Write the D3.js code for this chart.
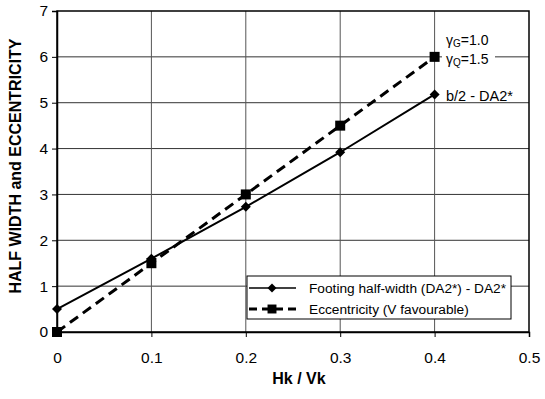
<!DOCTYPE html>
<html><head><meta charset="utf-8">
<script src="https://cdn.jsdelivr.net/npm/d3@7"></script>
<style>body{margin:0;background:#fff;} text{font-family:Arial,"Liberation Sans",sans-serif;}</style>
</head><body>
<svg id="c" width="545" height="399"></svg>
<script>
const xValues = [0, 0.1, 0.2, 0.3, 0.4];
const footing = [0.5, 1.6, 2.73, 3.92, 5.18];
const eccentricity = [0, 1.5, 3.0, 4.5, 6.0];
const xTicks = [0, 0.1, 0.2, 0.3, 0.4, 0.5];
const yTicks = [0, 1, 2, 3, 4, 5, 6, 7];
const seriesNames = ["Footing half-width (DA2*) - DA2*", "Eccentricity (V favourable)"];

const svg = d3.select("#c");
const L = 57, R = 529, T = 11, B = 332;
const x = d3.scaleLinear().domain([0, 0.5]).range([L, R]);
const y = d3.scaleLinear().domain([0, 7]).range([B, T]);

// gridlines
svg.append("g").selectAll("line").data(yTicks.slice(1, -1)).join("line")
  .attr("x1", L).attr("x2", R).attr("y1", d => y(d)).attr("y2", d => y(d))
  .attr("stroke", "#333").attr("stroke-width", 1);
svg.append("g").selectAll("line").data(xTicks.slice(1, -1)).join("line")
  .attr("y1", T).attr("y2", B).attr("x1", d => x(d)).attr("x2", d => x(d))
  .attr("stroke", "#555").attr("stroke-width", 1);
// frame
svg.append("rect").attr("x", L).attr("y", T).attr("width", R - L).attr("height", B - T)
  .attr("fill", "none").attr("stroke", "#000").attr("stroke-width", 1.5);

// axes
const xa = svg.append("g").attr("transform", `translate(0,${B})`)
  .call(d3.axisBottom(x).tickValues(xTicks).tickSize(5).tickPadding(15).tickFormat(d => d === 0 ? "0" : d3.format(".1f")(d)));
xa.select(".domain").attr("stroke", "#000").attr("stroke-width", 1.5);
xa.selectAll("text").attr("font-size", 15.5).attr("fill", "#000");
const ya = svg.append("g").attr("transform", `translate(${L},0)`)
  .call(d3.axisLeft(y).tickValues(yTicks).tickSize(5).tickPadding(4).tickFormat(d3.format("d")));
ya.select(".domain").attr("stroke", "#000").attr("stroke-width", 1.5);
ya.selectAll("text").attr("font-size", 15.5).attr("fill", "#000");

// titles
svg.append("text").attr("x", 299).attr("y", 384).attr("text-anchor", "middle")
  .attr("font-size", 16).attr("font-weight", "bold").text("Hk / Vk");
svg.append("text").attr("transform", `translate(21,166) rotate(-90)`)
  .attr("text-anchor", "middle").attr("font-size", 16).attr("font-weight", "bold")
  .text("HALF WIDTH and ECCENTRICITY");

// annotations with white background
const ann = svg.append("g");
ann.append("rect").attr("x", 442).attr("y", 30).attr("width", 53).attr("height", 40).attr("fill", "#fff");
const t1 = ann.append("text").attr("x", 446).attr("y", 45).attr("font-size", 14);
t1.append("tspan").text("γ");
t1.append("tspan").attr("font-size", 10).attr("dy", 2).text("G");
t1.append("tspan").attr("dy", -2).text("=1.0");
const t2 = ann.append("text").attr("x", 446).attr("y", 64).attr("font-size", 14);
t2.append("tspan").text("γ");
t2.append("tspan").attr("font-size", 10).attr("dy", 2).text("Q");
t2.append("tspan").attr("dy", -2).text("=1.5");
ann.append("text").attr("x", 446).attr("y", 101).attr("font-size", 14.5).text("b/2 - DA2*");

// lines
const lineGen = vals => d3.line().x((d, i) => x(xValues[i])).y(d => y(d))(vals);
svg.append("path").attr("d", lineGen(footing)).attr("fill", "none").attr("stroke", "#000").attr("stroke-width", 2);
svg.append("path").attr("d", lineGen(eccentricity)).attr("fill", "none").attr("stroke", "#000")
  .attr("stroke-width", 3).attr("stroke-dasharray", "10,6");

svg.append("g").selectAll("path").data(footing).join("path")
  .attr("d", d3.symbol().type(d3.symbolSquare).size(50))
  .attr("transform", (d, i) => `translate(${x(xValues[i])},${y(d)}) rotate(45)`).attr("fill", "#000");
svg.append("g").selectAll("path").data(eccentricity).join("path")
  .attr("transform", (d, i) => `translate(${x(xValues[i])},${y(d)})`)
  .attr("d", d3.symbol().type(d3.symbolSquare).size(100)).attr("fill", "#000");

// legend
const lg = svg.append("g");
lg.append("rect").attr("x", 247).attr("y", 276).attr("width", 264).attr("height", 43)
  .attr("fill", "#fff").attr("stroke", "#000").attr("stroke-width", 1);
lg.append("line").attr("x1", 249).attr("x2", 296).attr("y1", 288).attr("y2", 288).attr("stroke", "#000").attr("stroke-width", 1.5);
lg.append("path").attr("d", d3.symbol().type(d3.symbolSquare).size(40)).attr("transform", "translate(272,288) rotate(45)");
lg.append("line").attr("x1", 249).attr("x2", 296).attr("y1", 309).attr("y2", 309).attr("stroke", "#000").attr("stroke-width", 3).attr("stroke-dasharray", "8,5");
lg.append("path").attr("d", d3.symbol().type(d3.symbolSquare).size(80)).attr("transform", "translate(272,309)");
lg.append("text").attr("x", 309).attr("y", 293).attr("font-size", 13.7).text(seriesNames[0]);
lg.append("text").attr("x", 309).attr("y", 314).attr("font-size", 13.7).text(seriesNames[1]);
</script>
</body></html>
